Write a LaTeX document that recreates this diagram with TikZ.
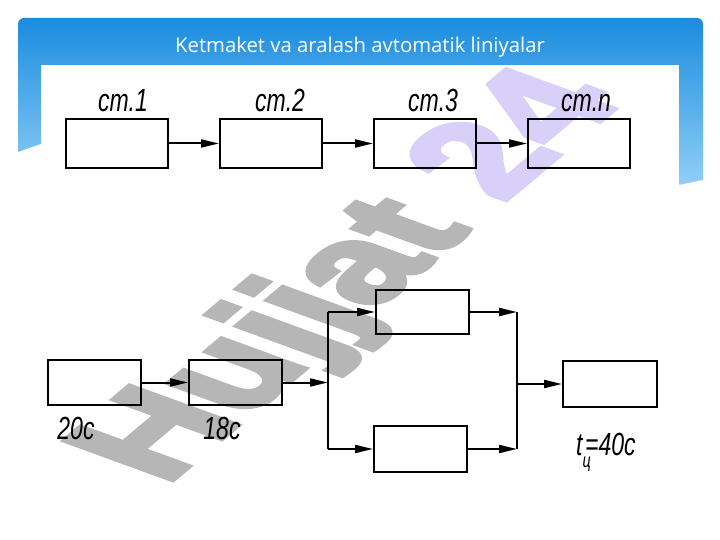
\documentclass[tikz,border=0pt]{standalone}
\usepackage{fontspec}
\setmainfont{Liberation Sans}
\newfontfamily\titlefont{Open Sans}
\newfontfamily\gostfont{Liberation Sans}
\newfontfamily\wmfont[BoldFeatures={FakeBold=4}]{Liberation Sans}
\usetikzlibrary{arrows.meta}
\definecolor{bTop}{RGB}{26,140,223}
\definecolor{bBot}{RGB}{150,210,248}
\definecolor{wmGray}{RGB}{182,182,182}
\definecolor{wmViolet}{RGB}{217,208,250}
\definecolor{wmVioletBlue}{RGB}{175,178,244}
\newcommand\gostlab[1]{\scalebox{0.72}[1]{\gostfont\itshape\fontsize{32}{32}\selectfont #1}}
\tikzset{
  box/.style={draw=black, line width=2, inner sep=0, minimum width=93, minimum height=45},
  topbox/.style={box, minimum width=102, minimum height=49},
  arr/.style={line width=2, -{Triangle[length=18pt,width=8pt]}},
  plainline/.style={line width=2},
  lab/.style={inner sep=0, anchor=base},
  wm/.style={inner sep=0, anchor=base west, cm={0.766,0.643,-1.085,0.395,(0,0)},
    font=\wmfont\fontsize{144}{144}\selectfont\bfseries}
}
\begin{document}
\begin{tikzpicture}[x=1pt,y=-1pt]
\useasboundingbox (0,0) rectangle (720,540);
\fill[white] (0,0) rectangle (720,540);
% banner
\shade[rounded corners=6, top color=bTop, bottom color=bBot] (18,18) rectangle (703,194);
\fill[white] (10,152) -- (18,152) -- (41,144) -- (679,185) -- (703,180) -- (712,180) -- (712,200) -- (10,200) -- cycle;
\fill[white] (41,65) rectangle (679,520);

% watermark (behind the drawing)
\begin{scope}
  \clip (41,65) rectangle (679,520);
  \node[wm, text=wmGray] (wmark) at (165,486) {Hujjat \textcolor{wmViolet}{24}};
\end{scope}
\begin{scope}
  \clip (18,18) rectangle (703,65);
  \node[wm, text=wmVioletBlue] (wmarkb) at (165,486) {\textcolor{wmVioletBlue}{\phantom{Hujjat} 24}};
\end{scope}

\node[text=white, font=\titlefont\fontsize{20.3}{20.3}\selectfont, inner sep=0, anchor=base] (title) at (360,53) {Ketmaket va aralash avtomatik liniyalar};

% top row
\node[topbox] (s1) at (117,143.5) {};
\node[topbox] (s2) at (271,143.5) {};
\node[topbox] (s3) at (425,143.5) {};
\node[topbox] (s4) at (579,143.5) {};
\node[lab] (l1) at (123,112) {\gostlab{cm.1}};
\node[lab] (l2) at (280,112) {\gostlab{cm.2}};
\node[lab] (l3) at (433,112) {\gostlab{cm.3}};
\node[lab] (l4) at (586,112) {\gostlab{cm.n}};
\draw[arr] (s1) -- (s2);
\draw[arr] (s2) -- (s3);
\draw[arr] (s3) -- (s4);

% bottom scheme
\node[box] (a) at (94.5,382.5) {};
\node[box] (b) at (235.5,382.5) {};
\node[box, minimum height=44] (c) at (422.5,312) {};
\node[box, minimum height=46] (d) at (420.5,449) {};
\node[box, minimum width=94, minimum height=46] (e) at (610,384) {};
\coordinate (j1t) at (328,312);
\coordinate (j1m) at (328,382.5);
\coordinate (j1b) at (328,449);
\coordinate (j2t) at (517,312);
\coordinate (j2m) at (517,384);
\coordinate (j2b) at (517,449);
\draw[arr] (a) -- (b);
\draw[arr] (b) -- (j1m);
\draw[plainline] (j1t) -- (j1b);
\draw[arr] (j1t) -- (c);
\draw[arr] (j1b) -- (d);
\draw[arr] (c) -- (j2t);
\draw[arr] (d) -- (j2b);
\draw[plainline] (j2t) -- (j2b);
\draw[arr] (j2m) -- (e);
\node[lab] (la) at (76,439) {\gostlab{20c}};
\node[lab] (lb) at (222,439) {\gostlab{18c}};
\node[lab, anchor=base west] (le) at (576,455) {\gostlab{t\raisebox{-0.4em}{\fontsize{20}{20}\selectfont ц}\kern-0.25em=40c}};
\end{tikzpicture}
\end{document}
